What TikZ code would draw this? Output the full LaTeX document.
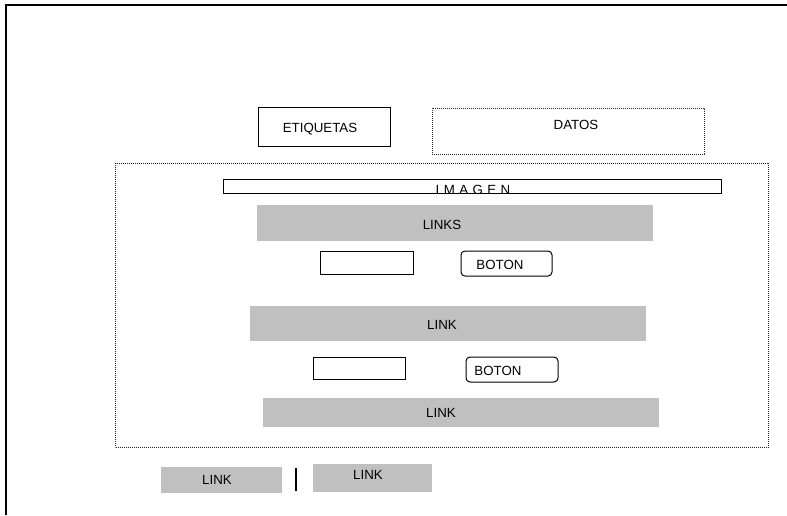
\documentclass[tikz,border=0pt]{standalone}
\usepackage{fontspec}
\setmainfont{Liberation Sans}
\definecolor{barfill}{RGB}{192,192,192}
\begin{document}
\begin{tikzpicture}[x=1pt,y=-1pt,
  every node/.style={font=\fontsize{13.3}{15}\selectfont, inner sep=0pt, outer sep=0pt},
  boxed/.style={draw=black, line width=1pt, anchor=north west},
  roundbox/.style={draw=black, line width=1pt, rounded corners=4pt, anchor=north west},
  dotbox/.style={draw=black!85, line width=0.8pt, dash pattern=on 0.9pt off 1.1pt, anchor=north west},
  bar/.style={fill=barfill, draw=none, anchor=north west},
  caption/.style={anchor=center}]
\useasboundingbox (0,0) rectangle (787,515);

% page frame
\draw[line width=2pt] (787,4.5) -- (5.5,4.5) -- (5.5,515);

% header
\node[boxed, minimum width=132, minimum height=39] (etq) at (258,107) {};
\node[caption] (etqt) at (320,129) {ETIQUETAS};
\node[dotbox, minimum width=272, minimum height=46] (dat) at (432,108) {};
\node[caption] (datt) at (576,125) {DATOS};

% content area
\node[dotbox, minimum width=653, minimum height=284] (area) at (115.5,163) {};
\node[boxed, minimum width=498, minimum height=14] (img) at (223,179) {};
\node[anchor=base] (imgt) at (473,194) {I\,\,M\,\,A\,\,G\,\,E\,\,N};

\node[bar, minimum width=396, minimum height=36] (l1) at (257,205) {};
\node[caption] (l1t) at (442,225) {LINKS};

\node[boxed, minimum width=93, minimum height=23] (f1) at (320,251) {};
\node[roundbox, minimum width=91, minimum height=25] (b1) at (461,251) {};
\node[caption] (b1t) at (500,265) {BOTON};

\node[bar, minimum width=396, minimum height=35] (l2) at (250,306) {};
\node[caption] (l2t) at (442,325) {LINK};

\node[boxed, minimum width=92, minimum height=22] (f2) at (313,357) {};
\node[roundbox, minimum width=92, minimum height=25] (b2) at (466,357) {};
\node[caption] (b2t) at (498,371) {BOTON};

\node[bar, minimum width=396, minimum height=29] (l3) at (263,398) {};
\node[caption] (l3t) at (441,413) {LINK};

% footer links
\node[bar, minimum width=121, minimum height=26] (fl1) at (161,467) {};
\node[caption] (fl1t) at (217,480) {LINK};
\coordinate (sepTop) at (296,468);
\coordinate (sepBot) at (296,491);
\draw[line width=1.3pt] (sepTop) -- (sepBot);
\node[bar, minimum width=119, minimum height=28] (fl2) at (313,464) {};
\node[caption] (fl2t) at (368,475) {LINK};
\end{tikzpicture}
\end{document}
